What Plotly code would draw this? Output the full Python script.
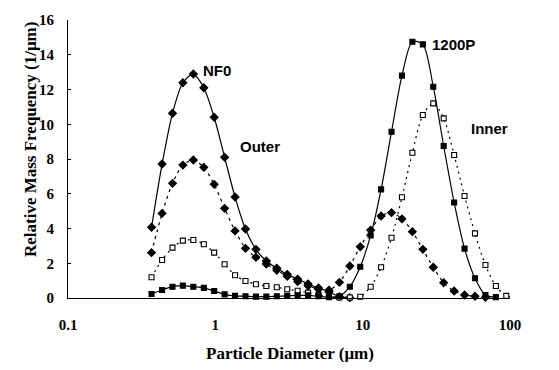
import plotly.graph_objects as go

# Particle diameter bins (µm)
diameter = [0.369, 0.435, 0.512, 0.602, 0.709, 0.835, 0.982, 1.156, 1.361, 1.602,
            1.886, 2.220, 2.613, 3.076, 3.620, 4.262, 5.016, 5.905, 6.950, 8.18,
            9.63, 11.33, 13.34, 15.70, 18.48, 21.75, 25.61, 30.14, 35.47, 41.76,
            49.15, 57.85, 68.1, 80.2, 94.4, 111.1]

nf0_outer = [4.07, 7.71, 10.63, 12.39, 12.89, 12.1, 10.4, 8.1, 5.81, 3.97,
             2.8, 2.13, 1.71, 1.36, 1.09, 0.81, 0.58, 0.36, 0.08, 0.02]

nf0_inner = [2.61, 4.87, 6.6, 7.65, 7.94, 7.52, 6.54, 5.16, 3.86, 2.86,
             2.34, 1.95, 1.6, 1.25, 0.95, 0.7, 0.5, 0.45, 0.9, 1.84,
             2.95, 3.91, 4.72, 4.91, 4.55, 3.82, 2.80, 1.77, 0.88, 0.40,
             0.17, 0.1, 0.04]

p1200_inner = [1.19, 2.19, 2.90, 3.30, 3.34, 3.09, 2.61, 1.94, 1.31, 0.98,
               0.79, 0.69, 0.62, 0.50, 0.42, 0.31, 0.17, 0.07, 0.03, 0.03,
               0.07, 0.65, 1.77, 3.47, 5.80, 8.36, 10.53, 11.2, 10.34, 8.23,
               5.87, 3.72, 1.90, 0.69, 0.12, 0.07]

p1200_outer = [0.23, 0.46, 0.65, 0.71, 0.65, 0.58, 0.40, 0.21, 0.12, 0.10,
               0.08, 0.08, 0.10, 0.12, 0.15, 0.15, 0.10, 0.05, 0.10, 0.65,
               1.8, 3.6, 6.25, 9.57, 12.8, 14.75, 14.6, 12.16, 8.75, 5.5,
               2.84, 1.14, 0.17, 0.05]

x_ticks = [0.1, 1, 10, 100]
x_tick_labels = ["0.1", "1", "10", "100"]
y_ticks = [0, 2, 4, 6, 8, 10, 12, 14, 16]

fig = go.Figure()

def add(y, dash, symbol, size, filled, smooth):
    fig.add_trace(go.Scatter(
        x=diameter[:len(y)], y=y, mode="lines+markers",
        line=dict(color="black", width=1.2, dash=dash, shape="spline", smoothing=smooth),
        marker=dict(symbol=symbol, size=size,
                    color="black" if filled else "white",
                    line=dict(color="black", width=1.1)),
        cliponaxis=False, showlegend=False))

add(nf0_outer, "solid", "diamond", 6, True, 0.8)
add(nf0_inner, "3px,4px", "diamond", 6, True, 0.8)
add(p1200_inner, "2px,4px", "square", 5, False, 0.8)
add(p1200_outer, "solid", "square", 5, True, 0.8)

# page has an 8px body margin: work in page pixels, convert to figure pixels
OFF = 8
W, H = 559 - 2 * OFF, 370 - 2 * OFF
L, R, T, B = 68, 510.5, 20, 298   # plot area in page pixels

def px(xp):
    return (xp - L) / (R - L)

def py(yp):
    return (B - yp) / (B - T)

ann_font = dict(family="Liberation Sans, Arial", size=15, color="black", weight="bold")
title_font = dict(family="Liberation Serif, Times New Roman", size=17, color="black", weight="bold")
tick_font = dict(family="Liberation Serif, Times New Roman", size=15, color="black", weight="bold")
annotations = [
    dict(text="NF0", x=px(217), y=py(71), font=ann_font),
    dict(text="Outer", x=px(260), y=py(146), font=ann_font),
    dict(text="1200P", x=px(454), y=py(44), font=ann_font),
    dict(text="Inner", x=px(490), y=py(128), font=ann_font),
    dict(text="Particle Diameter (μm)", x=px(290), y=py(353), font=title_font),
    dict(text="Relative Mass Frequency (1/μm)", x=px(30), y=py(140),
         textangle=-90, font=title_font),
]
for a in annotations:
    a.update(xref="paper", yref="paper", showarrow=False, xanchor="center", yanchor="middle")

fig.update_layout(
    width=W, height=H,
    margin=dict(l=L - OFF, r=(W + OFF) - R, t=T - OFF, b=(H + OFF) - B, autoexpand=False),
    paper_bgcolor="white", plot_bgcolor="white",
    annotations=annotations,
    xaxis=dict(type="log", range=[-1, 2], tickvals=x_ticks, ticktext=x_tick_labels,
               showgrid=False, zeroline=False, showline=True, linecolor="black",
               linewidth=1, ticks="", ticklabelstandoff=13, tickfont=tick_font),
    yaxis=dict(range=[0, 16], tickvals=y_ticks, showgrid=False, zeroline=False,
               showline=True, linecolor="black", linewidth=1, ticks="inside", ticklen=3,
               tickcolor="black", ticklabelstandoff=10, tickfont=tick_font),
)

fig.write_html("out.html")
